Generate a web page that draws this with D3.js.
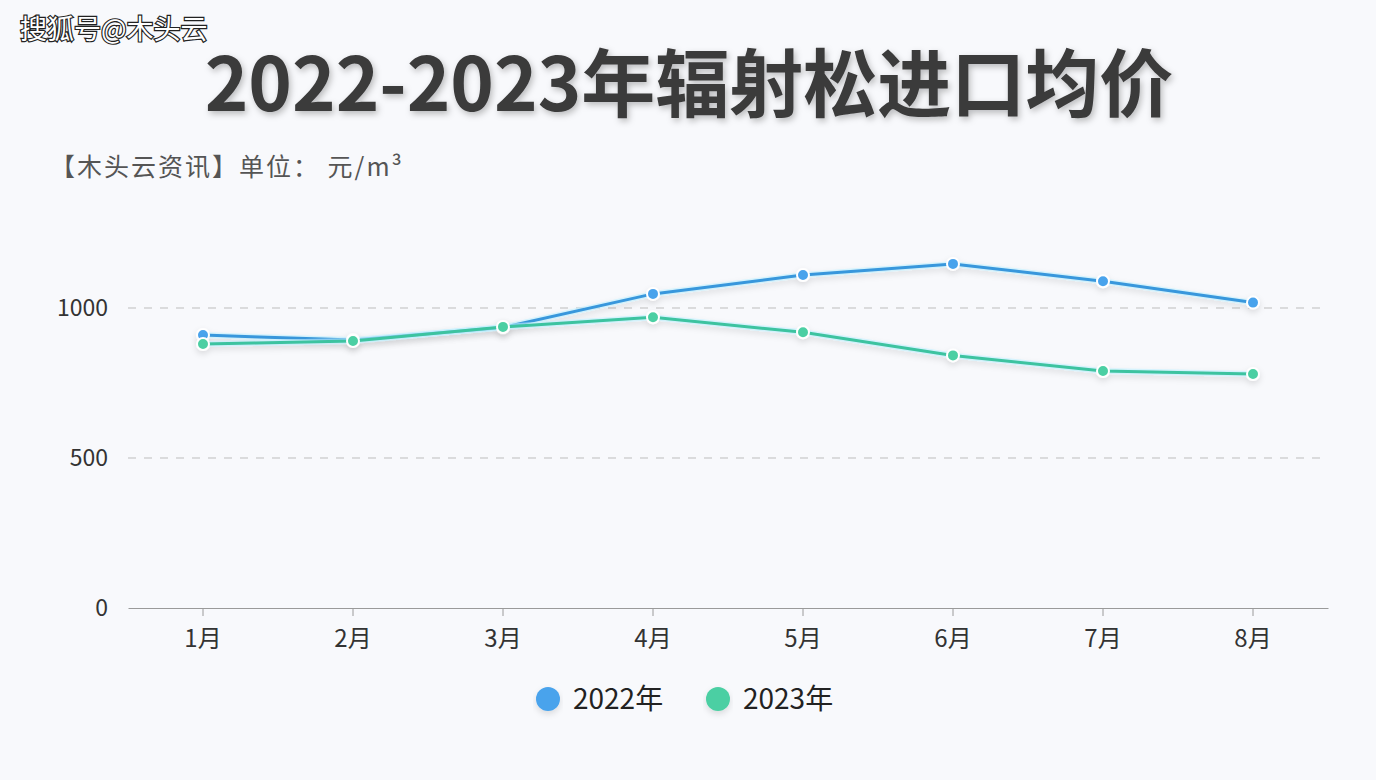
<!DOCTYPE html>
<html><head><meta charset="utf-8">
<script src="https://cdn.jsdelivr.net/npm/d3@7/dist/d3.min.js"></script>
<style>
html,body{margin:0;padding:0;background:#f8f9fc;}
svg{display:block;font-family:"Noto Sans CJK SC","Noto Sans",sans-serif;}
</style></head>
<body><svg id="c" width="1376" height="780"></svg>
<script>
const months = ["1月","2月","3月","4月","5月","6月","7月","8月"];
const v2022 = [910, 893, 935, 1047, 1110, 1147, 1089, 1018];
const v2023 = [880, 890, 937, 969, 919, 842, 790, 780];
const seriesNames = ["2022年","2023年"];
const colors = ["#4aa3ec","#4ccfa3"];
const lineColors = ["#3897dc","#3cc3a0"];
const yTicks = [0, 500, 1000];

const svg = d3.select("#c");
const defs = svg.append("defs");
const f = defs.append("filter").attr("id","glow").attr("x","-10%").attr("y","-50%").attr("width","120%").attr("height","200%");
f.append("feDropShadow").attr("dx",0).attr("dy",3).attr("stdDeviation",3).attr("flood-color","#000").attr("flood-opacity",0.12);
const tf = defs.append("filter").attr("id","tshadow").attr("x","-5%").attr("y","-30%").attr("width","110%").attr("height","160%");
tf.append("feDropShadow").attr("dx",2).attr("dy",3).attr("stdDeviation",3).attr("flood-color","#000").attr("flood-opacity",0.25);

svg.append("rect").attr("width",1376).attr("height",780).attr("fill","#f8f9fc");

// watermark
svg.append("text").attr("x",20).attr("y",39).attr("font-size",27).attr("fill","#fff")
  .attr("stroke","#222").attr("stroke-width",2.4).attr("paint-order","stroke")
  .text("搜狐号@木头云");

// title
svg.append("text").attr("x",689).attr("y",111).attr("text-anchor","middle")
  .attr("font-size",74).attr("font-weight",700).attr("fill","#3b3b3b").attr("filter","url(#tshadow)")
  .text("2022-2023年辐射松进口均价");

// subtitle
svg.append("text").attr("x",50).attr("y",176).attr("font-size",25).attr("fill","#555")
  .attr("letter-spacing",2).text("【木头云资讯】单位： 元/m³");

const x = d3.scaleBand().domain(months).range([128,1328]);
const y = d3.scaleLinear().domain([0,1000]).range([608,308]);

// grid
svg.append("g").selectAll("line").data(yTicks.filter(d=>d>0)).join("line")
  .attr("x1",128).attr("x2",1328).attr("y1",d=>y(d)).attr("y2",d=>y(d))
  .attr("stroke","#bdbdbd").attr("stroke-dasharray","8,8").attr("stroke-width",1);

// y labels
svg.append("g").selectAll("text").data(yTicks).join("text")
  .attr("x",108).attr("y",d=>y(d)+8).attr("text-anchor","end")
  .attr("font-size",23).attr("fill","#333").text(d=>d);

// x axis
const xa = svg.append("g").attr("transform","translate(0,608)")
  .call(d3.axisBottom(x).tickSize(8).tickPadding(14).tickSizeOuter(0));
xa.select(".domain").attr("stroke","#9a9a9a");
xa.selectAll(".tick line").attr("stroke","#9a9a9a");
xa.selectAll(".tick text").attr("font-size",24).attr("fill","#333").attr("font-family","Noto Sans CJK SC");

const data = [v2022, v2023];
const line = d3.line().x((d,i)=>x(months[i])+x.bandwidth()/2).y(d=>y(d));
data.forEach((vals,k)=>{
  const g = svg.append("g").attr("filter","url(#glow)");
  g.append("path").datum(vals).attr("d",line).attr("fill","none")
    .attr("stroke","#bff0ff").attr("stroke-width",6).attr("stroke-opacity",0.6);
  g.append("path").datum(vals).attr("d",line).attr("fill","none")
    .attr("stroke",lineColors[k]).attr("stroke-width",3);
  g.selectAll("circle").data(vals).join("circle")
    .attr("cx",(d,i)=>x(months[i])+x.bandwidth()/2).attr("cy",d=>y(d))
    .attr("r",6).attr("fill",colors[k]).attr("stroke","#fff").attr("stroke-width",2);
});

// legend
const lg = svg.append("g");
const lx = [548, 718];
seriesNames.forEach((n,k)=>{
  lg.append("circle").attr("cx",lx[k]).attr("cy",699).attr("r",12).attr("fill",colors[k]).attr("filter","url(#glow)");
  lg.append("text").attr("x",lx[k]+25).attr("y",709).attr("font-size",28).attr("fill","#222").text(n);
});
</script></body></html>
